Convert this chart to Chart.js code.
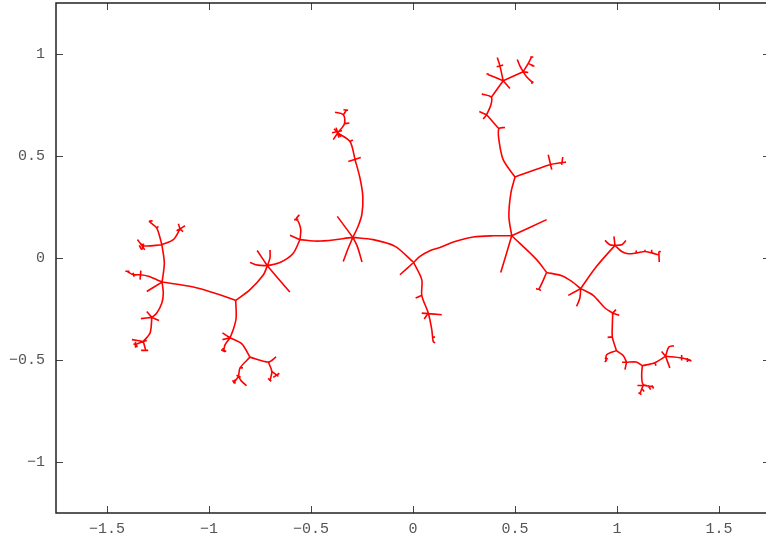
<!DOCTYPE html>
<html>
<head>
<meta charset="utf-8">
<title>Branching tree</title>
<script src="https://cdn.jsdelivr.net/npm/chart.js@4"></script>
<style>
  html, body { margin: 0; padding: 0; background: #fff; overflow: hidden; }
  #wrap { width: 776px; height: 542px; }
</style>
</head>
<body>
<div id="wrap"><canvas id="tree" width="776" height="542"></canvas></div>
<script>
const _ = null; // gap between branches

const xTicks = [-1.5, -1, -0.5, 0, 0.5, 1, 1.5];
const yTicks = [-1, -0.5, 0, 0.5, 1];

// centre: root and the first fork to the left
const centreX = [
  -0.064, 0.003, _,
  0.003, 0.034, 0.083, 0.132, 0.206, 0.295, 0.393, 0.484, _,
  0.003, -0.088, -0.195, -0.295, _,
  -0.295, -0.456, -0.554, _,
  -0.295, -0.371, _,
  -0.295, -0.317, -0.342, _,
  -0.295, -0.273, -0.250
];
const centreY = [
  -0.082, -0.022, _,
  -0.022, 0.008, 0.036, 0.052, 0.081, 0.103, 0.109, 0.109, _,
  -0.022, 0.057, 0.090, 0.101, _,
  0.101, 0.083, 0.090, _,
  0.101, 0.204, _,
  0.101, 0.049, -0.017, _,
  0.101, 0.057, -0.020
];

// limb going up from the centre fork
const upperX = [
  -0.295, -0.270, -0.251, -0.246, -0.260, -0.284, -0.309, -0.369, _,
  -0.317, -0.256, _,
  -0.309, -0.295, _,
  -0.369, -0.391, _,
  -0.387, -0.353, _,
  -0.397, -0.348, _,
  -0.377, -0.363, _,
  -0.369, -0.336, -0.341, -0.382, _,
  -0.341, -0.325, _,
  -0.336, -0.312, _,
  -0.341, -0.318
];
const upperY = [
  0.101, 0.153, 0.212, 0.302, 0.392, 0.482, 0.571, 0.613, _,
  0.473, 0.493, _,
  0.571, 0.578, _,
  0.613, 0.580, _,
  0.634, 0.594, _,
  0.614, 0.624, _,
  0.639, 0.590, _,
  0.613, 0.658, 0.702, 0.715, _,
  0.702, 0.727, _,
  0.658, 0.662, _,
  0.727, 0.724
];

// middle left: forks at (-0.55, 0.09) and (-0.71, -0.04)
const middleX = [
  -0.603, -0.554, _,
  -0.554, -0.550, -0.562, -0.573, -0.557, _,
  -0.583, -0.562, _,
  -0.554, -0.589, -0.652, -0.714, _,
  -0.714, -0.604, _,
  -0.714, -0.764, _,
  -0.714, -0.701, -0.701, _,
  -0.714, -0.760, -0.799, _,
  -0.714, -0.733, -0.799, -0.869
];
const middleY = [
  0.111, 0.090, _,
  0.090, 0.139, 0.179, 0.191, 0.212, _,
  0.188, 0.190, _,
  0.090, 0.021, -0.022, -0.038, _,
  -0.038, -0.167, _,
  -0.038, 0.037, _,
  -0.038, 0.001, 0.039, _,
  -0.038, -0.035, -0.022, _,
  -0.038, -0.082, -0.155, -0.208
];

// lower left cluster under (-0.87, -0.21)
const lowerX = [
  -0.869, -0.867, -0.881, -0.897, _,
  -0.897, -0.934, _,
  -0.897, -0.934, _,
  -0.897, -0.921, -0.929, _,
  -0.936, -0.916, _,
  -0.897, -0.839, -0.799, _,
  -0.799, -0.848, -0.856, -0.876, _,
  -0.856, -0.843, -0.816, _,
  -0.848, -0.833, _,
  -0.799, -0.709, -0.671, _,
  -0.709, -0.692, -0.701, _,
  -0.692, -0.660
];
const lowerY = [
  -0.208, -0.294, -0.351, -0.391, _,
  -0.391, -0.367, _,
  -0.391, -0.400, _,
  -0.391, -0.425, -0.458, _,
  -0.444, -0.459, _,
  -0.391, -0.421, -0.486, _,
  -0.486, -0.539, -0.580, -0.608, _,
  -0.580, -0.601, -0.626, _,
  -0.539, -0.538, _,
  -0.486, -0.510, -0.485, _,
  -0.510, -0.556, -0.601, _,
  -0.556, -0.580
];

// far left tree from (-1.23, -0.12)
const leftX = [
  -0.869, -0.962, -1.077, -1.230, _,
  -1.230, -1.297, -1.334, -1.371, -1.400, _,
  -1.334, -1.338, _,
  -1.372, -1.367, _,
  -1.230, -1.305, _,
  -1.230, -1.224, -1.231, -1.256, -1.280, _,
  -1.280, -1.305, _,
  -1.280, -1.245, _,
  -1.280, -1.334, _,
  -1.280, -1.289, -1.322, _,
  -1.322, -1.378, _,
  -1.322, -1.362, _,
  -1.322, -1.310, _,
  -1.333, -1.298, _,
  -1.322, -1.305, _,
  -1.230, -1.219, -1.231, _,
  -1.231, -1.322, -1.351, _,
  -1.323, -1.323, _,
  -1.342, -1.330, _,
  -1.231, -1.256, -1.292, -1.276, _,
  -1.256, -1.248, _,
  -1.231, -1.175, -1.142, _,
  -1.142, -1.150, _,
  -1.142, -1.118, _,
  -1.142, -1.159, _,
  -1.142, -1.127
];
const leftY = [
  -0.208, -0.175, -0.142, -0.118, _,
  -0.118, -0.090, -0.082, -0.082, -0.066, _,
  -0.062, -0.106, _,
  -0.072, -0.092, _,
  -0.118, -0.164, _,
  -0.118, -0.172, -0.221, -0.270, -0.291, _,
  -0.291, -0.262, _,
  -0.291, -0.306, _,
  -0.291, -0.297, _,
  -0.291, -0.368, -0.409, _,
  -0.409, -0.400, _,
  -0.409, -0.425, _,
  -0.409, -0.453, _,
  -0.453, -0.453, _,
  -0.409, -0.404, _,
  -0.118, -0.025, 0.065, _,
  0.065, 0.060, 0.090, _,
  0.070, 0.045, _,
  0.062, 0.041, _,
  0.065, 0.147, 0.179, 0.183, _,
  0.147, 0.155, _,
  0.065, 0.090, 0.142, _,
  0.142, 0.168, _,
  0.142, 0.158, _,
  0.142, 0.134, _,
  0.142, 0.129
];

// short limb below the root
const bottomX = [
  0.003, 0.043, 0.043, 0.075, 0.092, 0.099, 0.108, _,
  0.043, 0.013, _,
  0.043, 0.141, _,
  0.055, 0.075, _,
  0.093, 0.108
];
const bottomY = [
  -0.022, -0.106, -0.183, -0.270, -0.351, -0.409, -0.416, _,
  -0.183, -0.196, _,
  -0.270, -0.278, _,
  -0.299, -0.270, _,
  -0.388, -0.388
];

// top right tree from (0.48, 0.11)
const topX = [
  0.484, 0.655, _,
  0.484, 0.459, 0.430, _,
  0.484, 0.606, 0.655, _,
  0.484, 0.470, 0.480, 0.500, _,
  0.500, 0.671, 0.734, 0.750, _,
  0.663, 0.680, _,
  0.734, 0.729, _,
  0.500, 0.442, 0.421, 0.421, 0.451, _,
  0.421, 0.361, _,
  0.361, 0.325, _,
  0.361, 0.344, _,
  0.361, 0.382, 0.384, 0.337, _,
  0.384, 0.442, _,
  0.442, 0.367, _,
  0.442, 0.475, _,
  0.442, 0.426, 0.413, _,
  0.442, 0.410, _,
  0.442, 0.540, _,
  0.540, 0.524, 0.511, _,
  0.540, 0.565, 0.582, _,
  0.565, 0.589, _,
  0.540, 0.565, _,
  0.540, 0.557, 0.587
];
const topY = [
  0.109, 0.188, _,
  0.109, 0.025, -0.071, _,
  0.109, -0.008, -0.071, _,
  0.109, 0.204, 0.319, 0.397, _,
  0.397, 0.457, 0.468, 0.470, _,
  0.506, 0.433, _,
  0.495, 0.457, _,
  0.397, 0.482, 0.580, 0.634, 0.640, _,
  0.634, 0.702, _,
  0.702, 0.718, _,
  0.702, 0.681, _,
  0.702, 0.751, 0.788, 0.804, _,
  0.788, 0.869, _,
  0.869, 0.900, _,
  0.869, 0.831, _,
  0.869, 0.942, 0.983, _,
  0.946, 0.937, _,
  0.869, 0.913, _,
  0.913, 0.942, 0.973, _,
  0.913, 0.954, 0.986, _,
  0.954, 0.942, _,
  0.913, 0.909, _,
  0.913, 0.888, 0.859
];

// lower right tree from (0.655, -0.071)
const rightX = [
  0.655, 0.617, 0.603, _,
  0.617, 0.627, _,
  0.655, 0.729, 0.778, 0.822, _,
  0.822, 0.761, _,
  0.822, 0.818, 0.802, _,
  0.822, 0.900, 0.990, _,
  0.990, 0.985, _,
  0.990, 0.965, 0.941, _,
  0.990, 1.023, 1.044, _,
  0.990, 1.023, 1.055, 1.096, 1.137, 1.170, 1.202, _,
  1.096, 1.093, _,
  1.137, 1.137, _,
  1.170, 1.170, _,
  1.205, 1.207, _,
  1.205, 1.215, _,
  0.822, 0.883, 0.941, 0.979, _,
  0.979, 0.995, _,
  0.979, 1.011, _,
  0.979, 0.977, 0.977, 0.997, _,
  0.977, 0.954, _,
  0.997, 0.949, 0.946, _,
  0.997, 1.031, 1.047, _,
  1.047, 1.039, _,
  1.047, 1.025, _,
  1.047, 1.094, 1.124, _,
  1.124, 1.121, 1.129, 1.178, _,
  1.152, 1.165, _,
  1.129, 1.122, 1.112, _,
  1.122, 1.133, _,
  1.124, 1.186, 1.238, _,
  1.186, 1.191, _,
  1.238, 1.254, 1.279, _,
  1.238, 1.219, _,
  1.238, 1.259, _,
  1.238, 1.317, 1.362, _,
  1.317, 1.317
];
const rightY = [
  -0.071, -0.152, -0.150, _,
  -0.152, -0.160, _,
  -0.071, -0.087, -0.115, -0.150, _,
  -0.150, -0.183, _,
  -0.150, -0.196, -0.237, _,
  -0.150, -0.041, 0.062, _,
  0.062, 0.106, _,
  0.062, 0.065, 0.086, _,
  0.062, 0.065, 0.086, _,
  0.062, 0.032, 0.021, 0.025, 0.032, 0.025, 0.016, _,
  0.025, 0.037, _,
  0.032, 0.041, _,
  0.025, 0.041, _,
  0.032, -0.020, _,
  0.032, 0.031, _,
  -0.150, -0.183, -0.245, -0.270, _,
  -0.270, -0.253, _,
  -0.270, -0.281, _,
  -0.270, -0.335, -0.387, -0.454, _,
  -0.387, -0.389, _,
  -0.454, -0.474, -0.506, _,
  -0.454, -0.479, -0.511, _,
  -0.511, -0.547, _,
  -0.511, -0.511, _,
  -0.511, -0.510, -0.528, _,
  -0.528, -0.580, -0.621, -0.631, _,
  -0.625, -0.645, _,
  -0.621, -0.640, -0.666, _,
  -0.640, -0.654, _,
  -0.528, -0.513, -0.482, _,
  -0.513, -0.528, _,
  -0.482, -0.436, -0.430, _,
  -0.482, -0.458, _,
  -0.482, -0.539, _,
  -0.482, -0.490, -0.502, _,
  -0.476, -0.503
];

// tiny twigs at the branch ends
const twigX = [
  -1.335, -1.315, _, -1.330, -1.320, _,
  -1.370, -1.350, _, -1.360, -1.360, _,
  -1.410, -1.390, _,
  -0.885, -0.870, _, -0.880, -0.870, _,
  -0.865, -0.845, _,
  -0.940, -0.920, _,
  -0.710, -0.695, _,
  -0.685, -0.655, _,
  0.360, 0.370, _,
  0.580, 0.590, _,
  0.575, 0.590, _,
  0.580, 0.595, _,
  1.105, 1.120, _,
  1.100, 1.145, _,
  1.170, 1.180, _,
  1.350, 1.365, _,
  1.345, 1.345, _,
  0.940, 0.955, _, 0.940, 0.950
];
const twigY = [
  0.070, 0.040, _, 0.040, 0.070, _,
  -0.420, -0.435, _, -0.410, -0.440, _,
  -0.065, -0.065, _,
  -0.600, -0.615, _, -0.615, -0.595, _,
  -0.575, -0.585, _,
  -0.450, -0.460, _,
  -0.590, -0.605, _,
  -0.585, -0.565, _,
  0.900, 0.905, _,
  0.855, 0.865, _,
  0.985, 0.985, _,
  0.945, 0.940, _,
  -0.660, -0.670, _,
  -0.625, -0.625, _,
  -0.625, -0.640, _,
  -0.500, -0.505, _,
  -0.490, -0.510, _,
  -0.490, -0.495, _, -0.510, -0.500
];

function makeSeries(xs, ys) {
  return {
    data: xs.map((x, i) => ({ x: x, y: ys[i] })),
    showLine: true,
    spanGaps: false,
    borderColor: "#ff0000",
    borderWidth: 1.6,
    pointRadius: 0,
    pointHoverRadius: 0,
    tension: 0.3
  };
}

function minusLabel(value) {
  return String(value).replace("-", "\u2212");
}

// gnuplot style frame with the tick marks pointing inwards
const framePlugin = {
  id: "frame",
  afterDatasetsDraw(chart) {
    const { ctx, chartArea: a, scales } = chart;
    ctx.save();
    ctx.strokeStyle = "#444";
    ctx.lineWidth = 1;
    ctx.beginPath();
    scales.x.ticks.forEach(t => {
      const px = Math.round(scales.x.getPixelForValue(t.value)) + 0.5;
      ctx.moveTo(px, a.top); ctx.lineTo(px, a.top + 7);
      ctx.moveTo(px, a.bottom); ctx.lineTo(px, a.bottom - 7);
    });
    scales.y.ticks.forEach(t => {
      const py = Math.round(scales.y.getPixelForValue(t.value)) + 0.5;
      ctx.moveTo(a.left, py); ctx.lineTo(a.left + 7, py);
      ctx.moveTo(a.right, py); ctx.lineTo(a.right - 7, py);
    });
    ctx.stroke();
    ctx.strokeStyle = "#222";
    ctx.lineWidth = 1.5;
    ctx.strokeRect(a.left, a.top, a.right - a.left, a.bottom - a.top);
    ctx.restore();
  }
};

const labelFont = { family: "'Liberation Mono', 'DejaVu Sans Mono', monospace", size: 15 };

new Chart(document.getElementById("tree").getContext("2d"), {
  type: "scatter",
  data: {
    datasets: [
      makeSeries(centreX, centreY),
      makeSeries(upperX, upperY),
      makeSeries(middleX, middleY),
      makeSeries(lowerX, lowerY),
      makeSeries(leftX, leftY),
      makeSeries(bottomX, bottomY),
      makeSeries(topX, topY),
      makeSeries(rightX, rightY),
      makeSeries(twigX, twigY)
    ]
  },
  options: {
    responsive: false,
    animation: false,
    layout: { padding: { top: 3, right: 6, bottom: 0, left: 0 } },
    plugins: { legend: { display: false }, tooltip: { enabled: false } },
    scales: {
      x: {
        type: "linear",
        min: -1.75,
        max: 1.75,
        afterFit(s) { s.height = 29; s.paddingLeft = 0; s.paddingRight = 0; },
        afterBuildTicks(s) { s.ticks = xTicks.map(v => ({ value: v })); },
        grid: { display: false, drawTicks: false },
        border: { display: false },
        ticks: { color: "#555", font: labelFont, padding: 7, maxRotation: 0, autoSkip: false, callback: minusLabel }
      },
      y: {
        type: "linear",
        min: -1.25,
        max: 1.25,
        afterFit(s) { s.width = 56; s.paddingTop = 0; s.paddingBottom = 0; },
        afterBuildTicks(s) { s.ticks = yTicks.map(v => ({ value: v })); },
        grid: { display: false, drawTicks: false },
        border: { display: false },
        ticks: { color: "#555", font: labelFont, padding: 11, autoSkip: false, callback: minusLabel }
      }
    }
  },
  plugins: [framePlugin]
});
</script>
</body>
</html>
